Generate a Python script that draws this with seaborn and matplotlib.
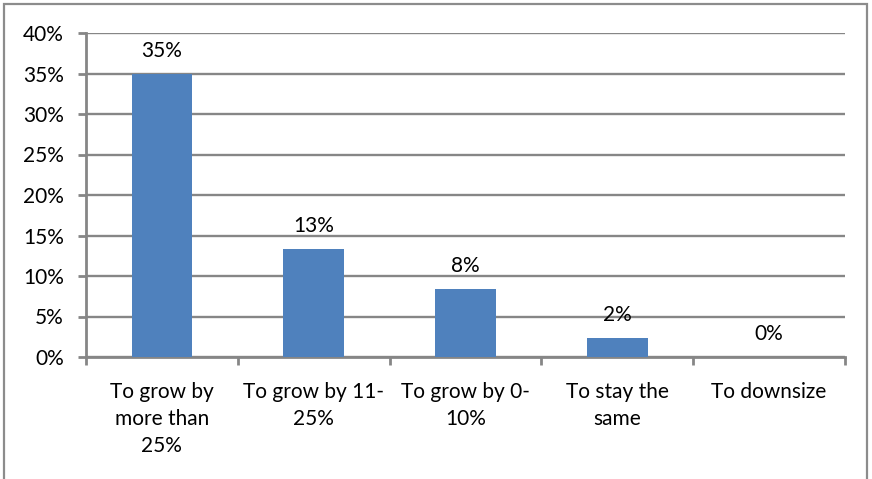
import matplotlib
matplotlib.use("Agg")
import matplotlib.pyplot as plt
from matplotlib.patches import Rectangle
from matplotlib.ticker import FixedLocator, PercentFormatter
import seaborn as sns
import pandas as pd

# Expected change in headcount: share of respondents per answer
categories = [
    "To grow by\nmore than\n25%",
    "To grow by 11-\n25%",
    "To grow by 0-\n10%",
    "To stay the\nsame",
    "To downsize",
]
shares = [0.350, 0.133, 0.0845, 0.023, 0.0]
y_ticks = [0.00, 0.05, 0.10, 0.15, 0.20, 0.25, 0.30, 0.35, 0.40]

BAR = "#4F81BD"
GRID = "#868686"
FS = 15

sns.set_theme(style="white")
plt.rcParams["font.family"] = ["Lato", "DejaVu Sans"]

df = pd.DataFrame({"answer": categories, "share": shares})

fig = plt.figure(figsize=(8.72, 4.79), dpi=100)
ax = fig.add_axes([86 / 872, 1 - 357 / 479, (845 - 86) / 872, (357 - 33) / 479])

sns.barplot(data=df, x="answer", y="share", color=BAR, width=0.4,
            saturation=1, linewidth=0, ax=ax, zorder=3)

ax.set_ylim(0, 0.40)
ax.set_xlim(-0.5, len(categories) - 0.5)
ax.yaxis.set_major_locator(FixedLocator(y_ticks))
ax.yaxis.set_major_formatter(PercentFormatter(1.0, decimals=0))
ax.set_xlabel("")
ax.set_ylabel("")

# horizontal gridlines
ax.yaxis.grid(True, color=GRID, linewidth=1.7, zorder=0)
ax.xaxis.grid(False)
ax.set_axisbelow(True)

for side in ("top", "right"):
    ax.spines[side].set_visible(False)
for side in ("left", "bottom"):
    ax.spines[side].set_color(GRID)
    ax.spines[side].set_linewidth(2.0)

# category-boundary ticks on x, outward ticks on y
ax.xaxis.set_minor_locator(FixedLocator([i - 0.5 for i in range(len(categories) + 1)]))
ax.tick_params(axis="x", which="minor", bottom=True, length=6, width=2.0, color=GRID)
ax.tick_params(axis="x", which="major", bottom=True, length=0, pad=18,
               labelsize=FS, labelcolor="black")
ax.tick_params(axis="y", which="major", left=True, length=6, width=2.0, color=GRID,
               pad=10, labelsize=FS, labelcolor="black")
for lbl in ax.get_xticklabels():
    lbl.set_linespacing(1.45)
    lbl.set_verticalalignment("top")

# value labels above bars
for i, v in enumerate(shares):
    ax.annotate(f"{v:.0%}", (i, v), xytext=(0, 16.5), textcoords="offset points",
                ha="center", va="center", fontsize=FS, color="black", zorder=5)

# chart-area frame
fig.patches.append(Rectangle((4 / 872, -0.1), (867 - 4) / 872, 1.1 - 4 / 479,
                             transform=fig.transFigure, fill=False,
                             edgecolor="#8C8C8C", linewidth=1.6, zorder=0))

fig.savefig("out.png", dpi=100)
